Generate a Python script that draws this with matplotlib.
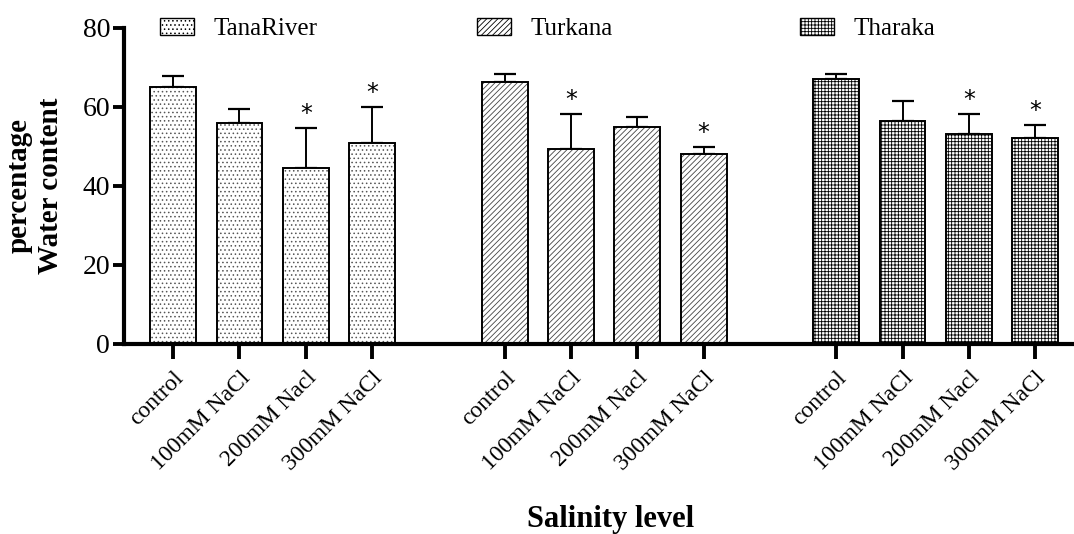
import matplotlib
matplotlib.use("Agg")
import matplotlib.pyplot as plt
from matplotlib.patches import Patch
from matplotlib.legend import Legend

plt.rcParams['font.family'] = ['Liberation Serif', 'DejaVu Serif']
plt.rcParams['hatch.linewidth'] = 0.6

varieties = ["TanaRiver", "Turkana", "Tharaka"]
levels = ["control", "100mM NaCl", "200mM Nacl", "300mM NaCl"]
means = {
    "TanaRiver": [65.1, 56.0, 44.4, 50.9],
    "Turkana": [66.3, 49.3, 54.8, 48.0],
    "Tharaka": [67.1, 56.4, 53.0, 52.1],
}
errors = {
    "TanaRiver": [2.8, 3.5, 10.2, 9.0],
    "Turkana": [1.9, 8.9, 2.6, 1.8],
    "Tharaka": [1.3, 5.1, 5.1, 3.2],
}
signif = {
    "TanaRiver": [False, False, True, True],
    "Turkana": [False, True, False, True],
    "Tharaka": [False, False, True, True],
}
hatches = {"TanaRiver": "....", "Turkana": "//////", "Tharaka": "+++++"}
edge_hatch = {"TanaRiver": "#555555", "Turkana": "#444444", "Tharaka": "black"}

fig = plt.figure(figsize=(10.74, 5.34), dpi=100)
ax = fig.add_axes([0.1155, 0.356, 0.883, 0.592])

positions = []
labels = []
for g, v in enumerate(varieties):
    xs = [g * 5 + i for i in range(len(levels))]
    positions += xs
    labels += levels
    ax.bar(xs, means[v], width=0.69, color="white", edgecolor=edge_hatch[v],
           hatch=hatches[v], linewidth=0, zorder=2)
    ax.bar(xs, means[v], width=0.69, color="none", edgecolor="black",
           linewidth=1.4, zorder=3)
    ax.errorbar(xs, means[v], yerr=[[0] * len(xs), errors[v]], fmt="none",
                ecolor="black", elinewidth=1.4, capsize=8, capthick=1.6, zorder=1)
    for x, m, e, s in zip(xs, means[v], errors[v], signif[v]):
        if s:
            ax.text(x, m + e + 0.5, "*", ha="center", va="bottom", fontsize=17,
                    fontfamily="DejaVu Sans")

ax.set_xlim(-0.74, 13.56)
ax.set_ylim(0, 80)
ax.set_yticks([0, 20, 40, 60, 80])
ax.set_xticks(positions)
ax.set_xticklabels(labels, rotation=45, ha="right", rotation_mode="anchor", fontsize=17)
ax.tick_params(axis="y", labelsize=20, width=2.8, length=8, direction="out", pad=2)
ax.tick_params(axis="x", width=2.8, length=11, direction="out", pad=6)
for side in ["top", "right"]:
    ax.spines[side].set_visible(False)
for side in ["left", "bottom"]:
    ax.spines[side].set_linewidth(3.0)

ax.set_ylabel("percentage\nWater content", fontsize=21, fontweight="bold",
              linespacing=1.22)
ax.yaxis.set_label_coords(-0.063, 0.5)
ax.set_xlabel("Salinity level", fontsize=22, fontweight="bold")
ax.xaxis.set_label_coords(0.513, -0.51)

legend_x = [0.038, 0.372, 0.713]
for v, lx in zip(varieties, legend_x):
    h = Patch(facecolor="white", edgecolor="black", hatch=hatches[v], linewidth=1.0)
    leg = Legend(ax, [h], [v], loc="center left", bbox_to_anchor=(lx, 0.995),
                 frameon=False, fontsize=18, handlelength=1.35, handleheight=0.65,
                 handletextpad=0.8, borderaxespad=0, borderpad=0)
    ax.add_artist(leg)

fig.savefig("out.png", dpi=100)
